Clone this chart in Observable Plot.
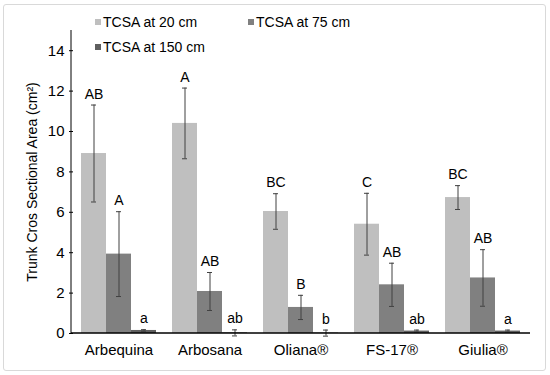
<!DOCTYPE html>
<html>
<head>
<meta charset="utf-8">
<script src="https://cdn.jsdelivr.net/npm/d3@7"></script>
<script src="https://cdn.jsdelivr.net/npm/@observablehq/plot@0.6"></script>
<style>
  body { margin: 0; background: #fff; font-family: "Liberation Sans", Arial, sans-serif; }
  #wrap { position: relative; width: 550px; height: 375px; }
  #border { position: absolute; left: 3px; top: 4px; width: 541px; height: 365px; border: 1px solid #d9d9d9; border-radius: 3px; pointer-events: none; }
  .lg { position: absolute; font-size: 14px; color: #000; white-space: nowrap; line-height: 16px; }
  .sw { display: inline-block; width: 6px; height: 6px; margin-right: 2px; vertical-align: 2px; }
</style>
</head>
<body>
<div id="wrap"><div id="border"></div></div>
<script>
const cultivars = ["Arbequina", "Arbosana", "Oliana®", "FS-17®", "Giulia®"];
const depths = ["TCSA at 20 cm", "TCSA at 75 cm", "TCSA at 150 cm"];
const colors = ["#bfbfbf", "#808080", "#5f5f5f"];
const tcsa20 = [8.91, 10.40, 6.04, 5.41, 6.73];
const err20 = [2.40, 1.75, 0.88, 1.53, 0.59];
const letters20 = ["AB", "A", "BC", "C", "BC"];
const tcsa75 = [3.93, 2.08, 1.29, 2.41, 2.75];
const err75 = [2.10, 0.94, 0.60, 1.07, 1.40];
const letters75 = ["A", "AB", "B", "AB", "AB"];
const tcsa150 = [0.15, 0.03, 0.02, 0.12, 0.12];
const err150 = [0.04, 0.15, 0.15, 0.05, 0.05];
const letters150 = ["a", "ab", "b", "ab", "a"];
const yTicks = [0, 2, 4, 6, 8, 10, 12, 14];

const series = [[tcsa20, err20, letters20], [tcsa75, err75, letters75], [tcsa150, err150, letters150]];
const data = [];
cultivars.forEach((c, i) => {
  series.forEach(([v, e, l], j) => {
    data.push({cultivar: c, depth: depths[j], value: v[i], err: e[i], letter: l[i]});
  });
});

const chart = Plot.plot({
  width: 550,
  height: 375,
  marginLeft: 71,
  marginRight: 20,
  marginTop: 30,
  marginBottom: 42,
  style: {fontFamily: "'Liberation Sans', Arial, sans-serif", fontSize: "14px", color: "#000", background: "transparent"},
  fx: {domain: cultivars, padding: 0, label: null},
  x: {domain: depths, axis: null, paddingInner: 0, paddingOuter: 0.265},
  y: {domain: [0, 15]},
  color: {domain: depths, range: colors},
  marks: [
    Plot.axisY({ticks: yTicks, tickSize: 4, tickPadding: 5, fontSize: 15, label: null}),
    Plot.axisY({ticks: [], tickSize: 0, fontSize: 14,
      label: "Trunk Cros Sectional Area (cm²)", labelAnchor: "center", labelArrow: false, labelOffset: 46}),
    Plot.axisFx({anchor: "bottom", tickSize: 0, tickPadding: 11, fontSize: 15, label: null}),
    Plot.barY(data, {fx: "cultivar", x: "depth", y: "value", fill: "depth"}),
    Plot.ruleX(data, {fx: "cultivar", x: "depth", y1: d => d.value - d.err, y2: d => d.value + d.err, stroke: "#404040", strokeWidth: 1}),
    Plot.tickY(data, {fx: "cultivar", x: "depth", y: d => d.value + d.err, stroke: "#404040", insetLeft: 10, insetRight: 10}),
    Plot.tickY(data, {fx: "cultivar", x: "depth", y: d => d.value - d.err, stroke: "#404040", insetLeft: 10, insetRight: 10}),
    Plot.text(data, {fx: "cultivar", x: "depth", y: d => d.value + d.err, text: "letter", dy: -11, fontSize: 14, fill: "#000"})
  ]
});

const ys = chart.scale("y");
const y0 = ys.apply(0), yTop = ys.apply(15);
const svg = d3.select(chart);
svg.append("line").attr("x1", 71).attr("x2", 71).attr("y1", yTop).attr("y2", y0).attr("stroke", "#000");
svg.append("line").attr("x1", 71).attr("x2", 530).attr("y1", y0).attr("y2", y0).attr("stroke", "#000").attr("stroke-width", 1.3);

const wrap = document.getElementById("wrap");
wrap.insertBefore(chart, wrap.firstChild);

const legendPos = [[95, 14], [248, 14], [95, 39]];
depths.forEach((d, i) => {
  const el = document.createElement("div");
  el.className = "lg";
  el.style.left = legendPos[i][0] + "px";
  el.style.top = legendPos[i][1] + "px";
  el.innerHTML = `<span class="sw" style="background:${colors[i]}"></span>${d}`;
  wrap.appendChild(el);
});
</script>
</body>
</html>
